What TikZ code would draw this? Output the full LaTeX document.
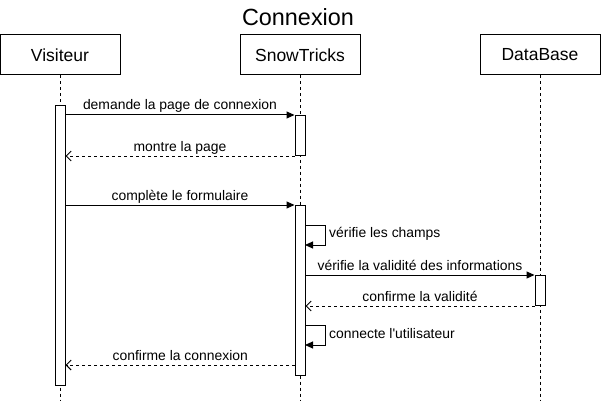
\documentclass[tikz,border=0pt]{standalone}
\usepackage{fontspec}
\setmainfont{Liberation Sans}
\usetikzlibrary{arrows.meta}
\begin{document}
\begin{tikzpicture}[x=1pt,y=-1pt,
  actor/.style={draw,line width=1pt,minimum width=120pt,minimum height=40pt,inner sep=0pt,font=\fontsize{17.5}{20}\selectfont},
  life/.style={line width=0.8pt,dash pattern=on 3pt off 3pt},
  act/.style={draw,fill=white,line width=1pt,minimum width=10pt,inner sep=0pt,anchor=north},
  msg/.style={line width=1pt,-{Triangle[length=8pt,width=7pt]}},
  ret/.style={line width=1pt,dash pattern=on 3pt off 3pt,-{Straight Barb[length=5pt,width=10pt]}},
  lbl/.style={font=\fontsize{13.9}{16}\selectfont,anchor=base,inner sep=0pt},
  slbl/.style={font=\fontsize{13.9}{16}\selectfont,anchor=west,inner sep=0pt}
]
\useasboundingbox (0,0) rectangle (601,406);
\node[font=\fontsize{23.4}{26}\selectfont] (title) at (298,17) {Connexion};
\node[actor] (vis) at (60,55) {Visiteur};
\node[actor] (snow) at (300,55) {SnowTricks};
\node[actor] (db) at (540,55) {DataBase};
\coordinate (visend) at (60,400);
\coordinate (snowend) at (300,400);
\coordinate (dbend) at (540,400);
\draw[life] (vis.south) -- (visend);
\draw[life] (snow.south) -- (snowend);
\draw[life] (db.south) -- (dbend);
% activations
\node[act,minimum height=280pt] (va) at (60,105) {};
\node[act,minimum height=40pt] (sa1) at (300,115) {};
\node[act,minimum height=170pt] (sa2) at (300,205) {};
\node[act,minimum height=30pt] (da) at (540,275) {};
% messages
\draw[msg] (va.east |- sa1.north) -- node[lbl,yshift=5pt]{demande la page de connexion} (sa1.north west);
\draw[ret] (sa1.south west) -- node[lbl,yshift=5pt]{montre la page} (va.east |- sa1.south);
\draw[msg] (va.east |- sa2.north) -- node[lbl,yshift=5pt]{complète le formulaire} (sa2.north west);
\coordinate (l1a) at (305,225);
\coordinate (l1b) at (305,245);
\draw[msg] (l1a) -- ++(20,0) -- ++(0,20) -- (l1b);
\node[slbl] (l1t) at (329,234) {vérifie les champs};
\draw[msg] (sa2.east |- da.north) -- node[lbl,yshift=5pt]{vérifie la validité des informations} (da.north west);
\draw[ret] (da.south west) -- node[lbl,yshift=5pt]{confirme la validité} (sa2.east |- da.south);
\coordinate (l2a) at (305,325);
\coordinate (l2b) at (305,345);
\draw[msg] (l2a) -- ++(20,0) -- ++(0,20) -- (l2b);
\node[slbl] (l2t) at (329,334) {connecte l\textquotesingle utilisateur};
\coordinate (r3) at (295,365);
\draw[ret] (r3) -- node[lbl,yshift=5pt]{confirme la connexion} (va.east |- r3);
\end{tikzpicture}
\end{document}
